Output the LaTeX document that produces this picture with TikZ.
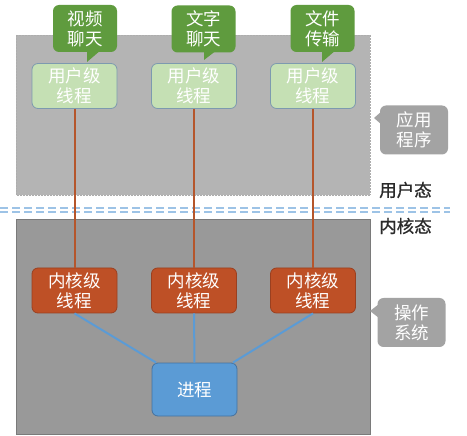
\documentclass[tikz,border=0pt]{standalone}
\usepackage{fontspec}
\setmainfont{Noto Sans CJK SC}
\newfontfamily\statefont[FakeBold=0.8]{Noto Sans CJK SC}
\definecolor{upgray}{HTML}{B4B4B4}
\definecolor{lowgray}{HTML}{999999}
\definecolor{tagray}{HTML}{A3A3A3}
\definecolor{usergreen}{HTML}{C5E0B4}
\definecolor{userborder}{HTML}{7D9AAF}
\definecolor{callgreen}{HTML}{5F9B3E}
\definecolor{kernred}{HTML}{BE5026}
\definecolor{kernborder}{HTML}{9A4020}
\definecolor{procblue}{HTML}{5B9BD5}
\definecolor{procborder}{HTML}{4472A0}
\definecolor{redline}{HTML}{B5562C}
\definecolor{blueline}{HTML}{5B9BD5}
\definecolor{dashblue}{HTML}{9DC3E6}
\definecolor{labeltext}{HTML}{2A2A2A}
\tikzset{
  boxtext/.style={font=\fontsize{17.5}{20}\selectfont, align=center, text=white, inner sep=0pt},
  userbox/.style={boxtext, rectangle, rounded corners=6pt, fill=usergreen, draw=userborder, line width=0.8pt, minimum width=85pt, minimum height=45pt},
  kernbox/.style={boxtext, rectangle, rounded corners=6pt, fill=kernred, draw=kernborder, line width=0.8pt, minimum width=85pt, minimum height=45pt},
  procbox/.style={boxtext, rectangle, rounded corners=6pt, fill=procblue, draw=procborder, line width=0.8pt, minimum width=85pt, minimum height=53pt},
  greencall/.style={boxtext, rectangle, rounded corners=6pt, fill=callgreen, minimum width=64pt, minimum height=47pt},
  graycall/.style={boxtext, rectangle, rounded corners=6pt, fill=tagray, minimum width=68pt, minimum height=49pt},
  statetext/.style={font=\statefont\fontsize{17.5}{20}\selectfont, text=labeltext, inner sep=0pt},
  redconn/.style={draw=redline, line width=2pt},
  blueconn/.style={draw=blueline, line width=2pt},
  dashsep/.style={draw=dashblue, line width=2pt, dash pattern=on 8pt off 4pt},
}
\begin{document}
\begin{tikzpicture}[x=1pt,y=-1pt]
\useasboundingbox (0,0) rectangle (467,436);
\fill[white] (0,0) rectangle (467,436);
% regions
\draw[fill=upgray, draw=lowgray!80, line width=0.5pt, densely dotted] (16,35) rectangle (370,195);
\draw[fill=lowgray, draw=lowgray!80!black, line width=0.5pt] (16,219) rectangle (370,434);
% separator
\coordinate (sepL1) at (0,208.5);
\coordinate (sepR1) at (450,208.5);
\coordinate (sepL2) at (0,212.5);
\coordinate (sepR2) at (450,212.5);
\draw[dashsep] (sepL1) -- (sepR1);
\draw[dashsep] (sepL2) -- (sepR2);
% user threads
\node[userbox] (u1) at (74.5,86) {用户级\\线程};
\node[userbox] (u2) at (194,86) {用户级\\线程};
\node[userbox] (u3) at (313,86) {用户级\\线程};
% kernel threads
\node[kernbox] (k1) at (74.5,290.5) {内核级\\线程};
\node[kernbox] (k2) at (194,290.5) {内核级\\线程};
\node[kernbox] (k3) at (313,290.5) {内核级\\线程};
% process
\node[procbox] (p) at (194.5,389.5) {进程};
% connectors
\draw[redconn] (u1.south) -- (k1.north);
\draw[redconn] (u2.south) -- (k2.north);
\draw[redconn] (u3.south) -- (k3.north);
\draw[blueconn] (k1.south) -- (p.145);
\draw[blueconn] (k2.south) -- (p.north);
\draw[blueconn] (k3.south) -- (p.35);
% green callouts
\coordinate (t1) at (87,62);
\coordinate (t2) at (204,60);
\coordinate (t3) at (322,62);
\fill[callgreen] (87,50) -- (t1) -- (101,50) -- cycle;
\fill[callgreen] (204,50) -- (t2) -- (217,50) -- cycle;
\fill[callgreen] (322,50) -- (t3) -- (336,50) -- cycle;
\node[greencall] (c1) at (85,28.5) {视频\\聊天};
\node[greencall] (c2) at (203.5,29) {文字\\聊天};
\node[greencall] (c3) at (322.5,28.5) {文件\\传输};
% gray side callouts
\coordinate (s1) at (374,118);
\coordinate (s2) at (370,311);
\fill[tagray] (382,111) -- (s1) -- (382,125) -- cycle;
\fill[tagray] (379,304) -- (s2) -- (379,318) -- cycle;
\node[graycall] (a1) at (414,130) {应用\\程序};
\node[graycall] (a2) at (411.5,322.5) {操作\\系统};
% state labels
\node[statetext] (us) at (405.5,190) {用户态};
\node[statetext] (ks) at (405.5,226) {内核态};
\end{tikzpicture}
\end{document}
